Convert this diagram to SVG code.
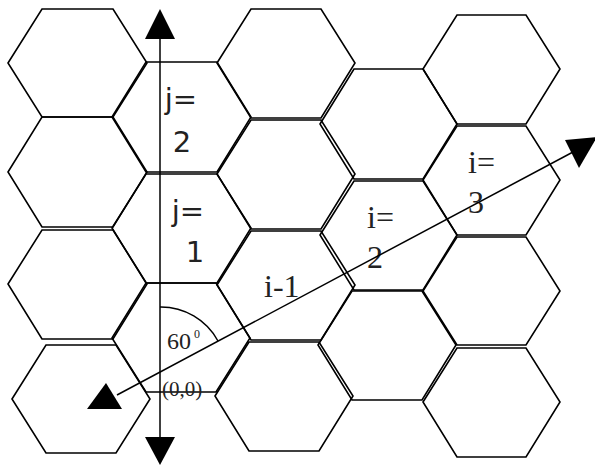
<svg xmlns="http://www.w3.org/2000/svg" width="595" height="467" viewBox="0 0 595 467">
<style>
.hex{fill:none;stroke:#000;stroke-width:1.6;stroke-linejoin:miter}
.ln{fill:none;stroke:#000;stroke-width:1.5}
.ah{fill:#000;stroke:none}
.ts{font-family:"DejaVu Sans",sans-serif;font-size:29px;fill:#222}
.tr{font-family:"Liberation Serif",serif;font-size:32px;fill:#222}
.sm{font-family:"Liberation Serif",serif;fill:#222}
</style>
<rect width="595" height="467" fill="#fff"/>
<g id="hex-c1-1"><polygon class="hex" points="8,63 42,9 113,9 147,63 113,117 42,117"/></g>
<g id="hex-c1-2"><polygon class="hex" points="8,172 42,117 113,117 147,172 113,227 42,227"/></g>
<g id="hex-c1-3"><polygon class="hex" points="8,284 42,230 113,230 147,284 113,339 42,339"/></g>
<g id="hex-c1-4"><polygon class="hex" points="12,399 46,345 116,345 150,399 116,453 46,453"/></g>
<g id="hex-j2"><polygon class="hex" points="112,117 146,62 217,62 251,117 217,172 146,172"/>
<text class="ts" x="181" y="109" text-anchor="middle">j=</text><text class="ts" x="182" y="152" text-anchor="middle">2</text></g>
<g id="hex-j1"><polygon class="hex" points="112,228 146,174 217,174 251,228 217,283 146,283"/>
<text class="ts" x="188" y="221" text-anchor="middle">j=</text><text class="ts" x="195" y="262" text-anchor="middle">1</text></g>
<g id="hex-origin"><polygon class="hex" points="112,338 146,283 216,283 250,338 216,392 146,392"/>
<text class="sm" x="167" y="349" font-size="24">60</text><text class="sm" x="194" y="338" font-size="12">0</text>
<text class="sm" x="162" y="396" font-size="21">(0,0)</text></g>
<g id="hex-c3-1"><polygon class="hex" points="217,63 251,9 321,9 355,63 321,118 251,118"/></g>
<g id="hex-c3-2"><polygon class="hex" points="217,174 251,120 321,120 355,174 321,229 251,229"/></g>
<g id="hex-i1"><polygon class="hex" points="217,285 251,231 321,231 355,285 321,340 251,340"/>
<text class="tr" x="264" y="297">i-1</text></g>
<g id="hex-c3-4"><polygon class="hex" points="215,396 249,342 319,342 353,396 319,451 249,451"/></g>
<g id="hex-c4-1"><polygon class="hex" points="320,124 354,69 423,69 457,124 423,179 354,179"/></g>
<g id="hex-i2"><polygon class="hex" points="320,235 354,181 423,181 457,235 423,290 354,290"/>
<text class="tr" x="367" y="228">i=</text><text class="tr" x="367" y="268">2</text></g>
<g id="hex-c4-3"><polygon class="hex" points="318,345 352,291 422,291 456,345 422,400 352,400"/></g>
<g id="hex-c5-1"><polygon class="hex" points="423,69 457,15 526,15 560,69 526,124 457,124"/></g>
<g id="hex-i3"><polygon class="hex" points="423,180 457,126 526,126 560,180 526,235 457,235"/>
<text class="tr" x="468" y="173">i=</text><text class="tr" x="468" y="213">3</text></g>
<g id="hex-c5-3"><polygon class="hex" points="423,291 457,237 526,237 560,291 526,345 457,345"/></g>
<g id="hex-c5-4"><polygon class="hex" points="423,402 457,348 526,348 560,402 526,457 457,457"/></g>
<g id="connectors">
<line class="ln" x1="160" y1="36" x2="160" y2="440"/>
<polygon class="ah" points="160,9 145,39 175,39"/>
<polygon class="ah" points="145,437 175,437 160,465"/>
<line class="ln" x1="117" y1="395" x2="573" y2="152"/>
<polygon class="ah" points="565,140 597,137 579,168"/>
<polygon class="ah" points="87,409 122,409 106,383"/>
<path class="ln" d="M160,307 A65,65 0 0 1 218,341"/>
</g>
</svg>
